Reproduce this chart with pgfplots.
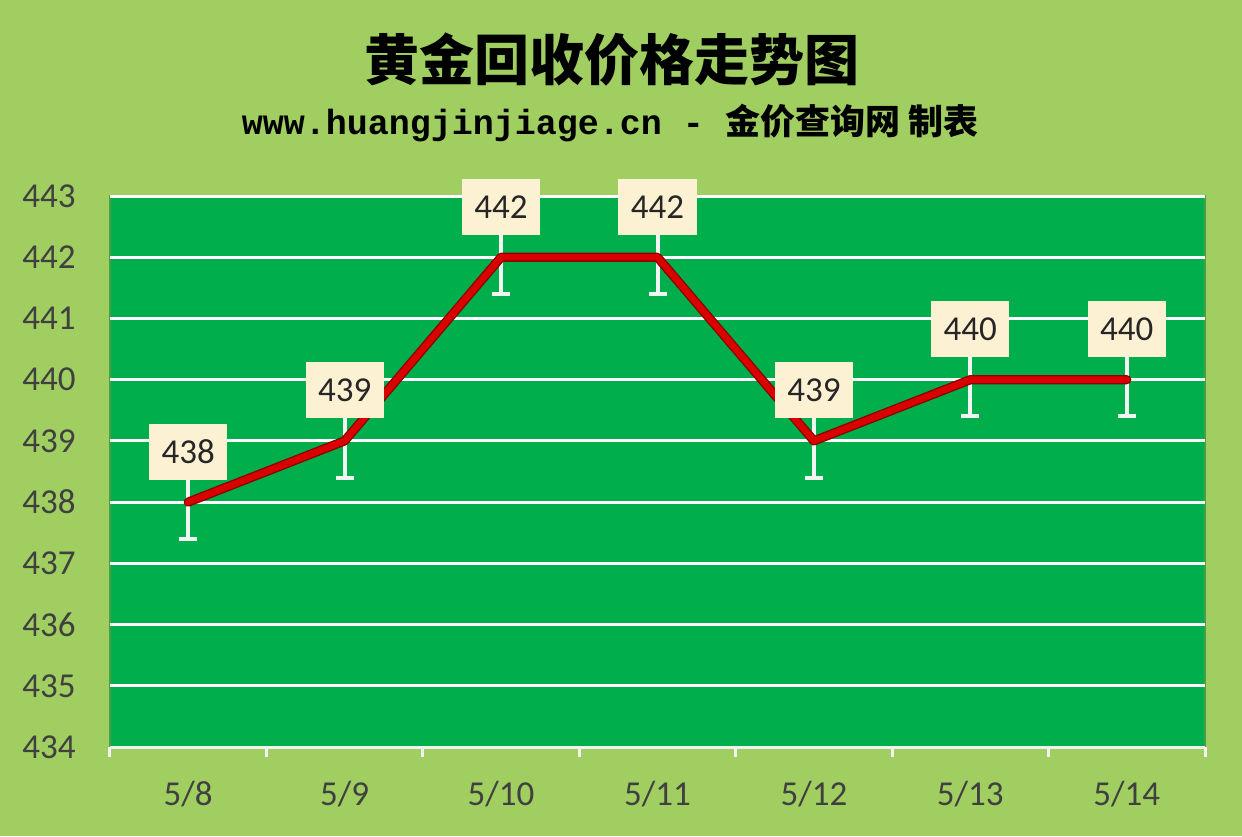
\documentclass[border=0pt]{standalone}
\usepackage{fontspec}
\usepackage{pgfplots}
\pgfplotsset{compat=1.18}
\setmainfont{Carlito}
\newfontfamily\cjk{Noto Sans CJK SC}
\newfontfamily\mono{Liberation Mono}
\definecolor{bg}{RGB}{160,206,96}
\definecolor{plotg}{RGB}{0,174,76}
\definecolor{borderg}{RGB}{70,160,70}
\definecolor{redc}{RGB}{218,0,0}
\definecolor{redd}{RGB}{140,0,0}
\definecolor{cream}{RGB}{253,241,212}
\definecolor{tickc}{RGB}{64,64,64}
\definecolor{errc}{RGB}{242,246,242}
\begin{document}
\begin{tikzpicture}
\fill[bg] (0,0) rectangle (621pt,418pt);
\node[font=\cjk\bfseries\fontsize{27.5}{30}\selectfont] at (306pt,388pt) {黄金回收价格走势图};
\node[font=\bfseries\fontsize{17.5}{20}\selectfont] at (305pt,356.5pt) {{\mono www.huangjinjiage.cn - }{\cjk 金价查询网 制表}};
\begin{axis}[at={(55pt,44.5pt)}, anchor=south west, scale only axis,
 width=547.5pt, height=275.5pt,
 xmin=-0.5, xmax=6.5, ymin=434, ymax=443,
 xtick={0,...,6}, xticklabels={5/8,5/9,5/10,5/11,5/12,5/13,5/14},
 minor xtick={-0.5,0.5,1.5,2.5,3.5,4.5,5.5,6.5},
 ytick={434,...,443},
 axis x line*=bottom, axis y line*=left,
 x axis line style={draw=gray!12, line width=1.5pt, -},
 y axis line style={draw=none},
 axis background/.style={fill=plotg, draw=borderg, line width=0.8pt},
 major tick length=0pt, minor tick length=5pt, tick align=outside,
 minor x tick style={draw=gray!10, line width=1.5pt},
 ymajorgrids, grid style={draw=white, line width=1.5pt},
 /pgf/number format/assume math mode=true,
 tick label style={font=\fontsize{17.5}{20}\selectfont, text=tickc},
 yticklabel style={inner sep=0pt, anchor=east, xshift=-17pt},
 xticklabel style={inner sep=0pt, anchor=base, yshift=-29pt},
 clip=false,
 ]
\addplot[draw=none, mark=none,
  error bars/.cd, y dir=both, y fixed=0.6,
  error bar style={draw=errc, line width=2pt},
  error mark=|,
  error mark options={draw=errc, line width=2pt, mark size=4.5pt}]
  table {
x y
0 438
1 439
2 442
3 442
4 439
5 440
6 440
};
\addplot[redd, line width=4.6pt, line join=round, line cap=round, mark=none] table {
x y
0 438
1 439
2 442
3 442
4 439
5 440
6 440
};
\addplot[redc, line width=3.2pt, line join=round, line cap=round, mark=none] table {
x y
0 438
1 439
2 442
3 442
4 439
5 440
6 440
};
\addplot[draw=none, mark=none, nodes near coords,
  every node near coord/.append style={anchor=south, yshift=11pt, fill=cream, draw=none,
    minimum width=39pt, minimum height=28pt, inner sep=0pt, text=black!85,
    font=\fontsize{17.5}{20}\selectfont}] table {
x y
0 438
1 439
2 442
3 442
4 439
5 440
6 440
};
\end{axis}
\pgfresetboundingbox
\path[use as bounding box] (0,0) rectangle (621pt,418pt);
\end{tikzpicture}
\end{document}
